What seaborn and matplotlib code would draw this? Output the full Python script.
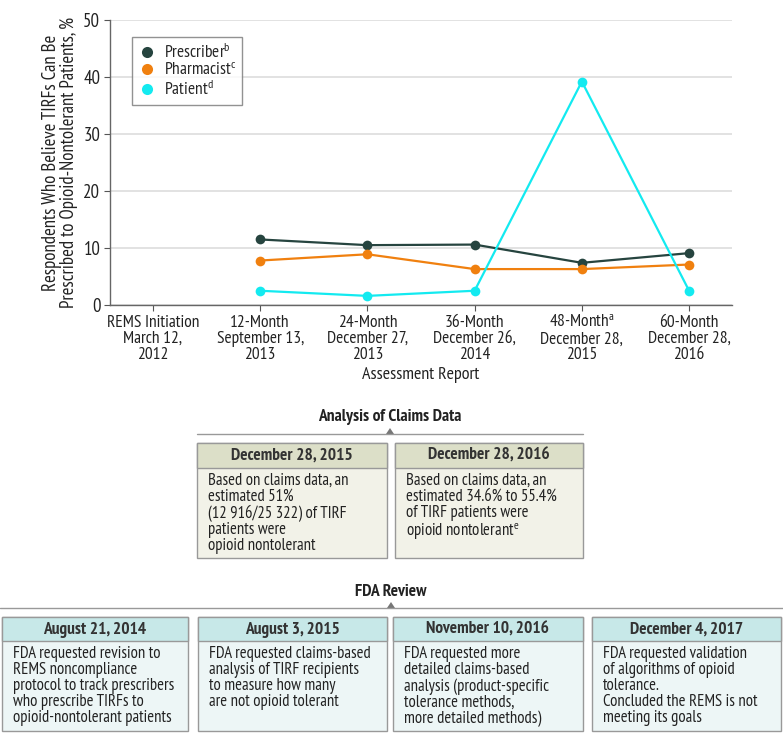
import matplotlib
matplotlib.use("Agg")
import matplotlib.pyplot as plt
from matplotlib import font_manager as fm
import seaborn as sns
import pandas as pd
from matplotlib.patches import Rectangle, Polygon

sns.set_theme(style="white")
available = set(f.name for f in fm.fontManager.ttflist)
candidates = ["PT Sans Narrow", "Fira Sans Condensed", "Roboto Condensed", "Archivo Narrow", "Lato"]
FONT = next((c for c in candidates if c in available), "DejaVu Sans")
plt.rcParams['font.family'] = [FONT, 'DejaVu Sans']
plt.rcParams['mathtext.fontset'] = 'custom'
plt.rcParams['mathtext.rm'] = FONT
plt.rcParams['mathtext.it'] = FONT

# ---- data ----
tick_labels = ["REMS Initiation\nMarch 12,\n2012",
               "12-Month\nSeptember 13,\n2013",
               "24-Month\nDecember 27,\n2013",
               "36-Month\nDecember 26,\n2014",
               "48-Month$^{\\mathrm{a}}$\nDecember 28,\n2015",
               "60-Month\nDecember 28,\n2016"]
report_idx = [1, 2, 3, 4, 5]
prescriber = [11.5, 10.5, 10.6, 7.4, 9.1]
pharmacist = [7.8, 8.9, 6.3, 6.3, 7.1]
patient = [2.5, 1.6, 2.5, 39.2, 2.5]
series_names = ["Prescriber$^{\\mathrm{b}}$", "Pharmacist$^{\\mathrm{c}}$", "Patient$^{\\mathrm{d}}$"]
colors = ["#26443f", "#f0800f", "#13eaf0"]

claims_dates = ["December 28, 2015", "December 28, 2016"]
claims_text = ["Based on claims data, an\nestimated 51%\n(12\u2009916/25\u2009322) of TIRF\npatients were\nopioid nontolerant",
               "Based on claims data, an\nestimated 34.6% to 55.4%\nof TIRF patients were\nopioid nontolerant$^{\\mathrm{e}}$"]
fda_dates = ["August 21, 2014", "August 3, 2015", "November 10, 2016", "December 4, 2017"]
fda_text = ["FDA requested revision to\nREMS noncompliance\nprotocol to track prescribers\nwho prescribe TIRFs to\nopioid-nontolerant patients",
            "FDA requested claims-based\nanalysis of TIRF recipients\nto measure how many\nare not opioid tolerant",
            "FDA requested more\ndetailed claims-based\nanalysis (product-specific\ntolerance methods,\nmore detailed methods)",
            "FDA requested validation\nof algorithms of opioid\ntolerance.\nConcluded the REMS is not\nmeeting its goals"]

df = pd.DataFrame({
    "idx": report_idx * 3,
    "value": prescriber + pharmacist + patient,
    "series": [series_names[0]] * 5 + [series_names[1]] * 5 + [series_names[2]] * 5,
})

W, H = 783, 745
fig = plt.figure(figsize=(W / 100, H / 100), dpi=100)

FS = 12

# chart axes
ax = fig.add_axes([110 / W, 1 - 305 / H, (732 - 110) / W, 285 / H])
sns.lineplot(data=df, x="idx", y="value", hue="series", hue_order=series_names,
             palette=colors, marker="o", markersize=7, markeredgewidth=0,
             linewidth=1.6, ax=ax)
ax.set_xlim(-0.4, 5.4)
ax.set_ylim(0, 50)
ax.set_yticks([0, 10, 20, 30, 40, 50])
ax.set_xticks(range(6))
ax.set_xticklabels(tick_labels, fontsize=FS + 0.5, color="#222222", linespacing=1.0)
ax.tick_params(axis="y", labelsize=FS + 1.5, colors="#222222", length=4, width=0.8, color="#555555",
               left=True, pad=3)
ax.tick_params(axis="x", length=4, width=0.8, color="#555555", bottom=True, pad=3)
ax.yaxis.grid(True, color="#dddddd", linewidth=1.2)
ax.set_axisbelow(True)
for s in ["top", "right"]:
    ax.spines[s].set_visible(False)
for s in ["left", "bottom"]:
    ax.spines[s].set_color("#666666")
    ax.spines[s].set_linewidth(1.0)
ax.set_xlabel("Assessment Report", fontsize=FS + 1, color="#222222", labelpad=3)
ax.set_ylabel("Respondents Who Believe TIRFs Can Be\nPrescribed to Opioid-Nontolerant Patients, %",
              fontsize=FS + 1.5, color="#222222", labelpad=4, linespacing=0.95)
leg = ax.legend(loc="upper left", bbox_to_anchor=(0.035, 0.94), borderaxespad=0, fontsize=FS + 0.5,
                frameon=True, fancybox=False, edgecolor="#777777", borderpad=0.35,
                handletextpad=0.5, labelspacing=0.05, handlelength=1.0)
leg.get_frame().set_linewidth(1.0)
for h in leg.legend_handles:
    h.set_linestyle("none")
    h.set_markersize(8)

# overlay axes for timeline boxes (pixel coordinates)
ov = fig.add_axes([0, 0, 1, 1])
ov.set_xlim(0, W)
ov.set_ylim(H, 0)
ov.axis("off")


def section(title, ty, ly, x0, x1, cx):
    ov.text(cx, ty, title, ha="center", va="center", fontsize=FS + 0.5, fontweight="bold", color="#222222")
    ov.plot([x0, x1], [ly, ly], color="#999999", lw=1.0)
    ov.add_patch(Polygon([[cx - 4, ly], [cx + 4, ly], [cx, ly - 6]], closed=True, color="#777777", lw=0))


def box(x0, x1, y0, y1, hy, date, text, hcol, bcol):
    ov.add_patch(Rectangle((x0, y0), x1 - x0, y1 - y0, facecolor=bcol, edgecolor="#999999", lw=1.0))
    ov.add_patch(Rectangle((x0, y0), x1 - x0, hy - y0, facecolor=hcol, edgecolor="#999999", lw=1.0))
    ov.text((x0 + x1) / 2, (y0 + hy) / 2 + 0.5, date, ha="center", va="center", fontsize=FS + 0.5,
            fontweight="bold", color="#333333")
    ov.text(x0 + 11, hy + 5, text, ha="left", va="top", fontsize=FS, color="#222222", linespacing=1.0)


section("Analysis of Claims Data", 417, 434, 197, 583, 390)
claims_x = [(197, 387), (395, 583)]
for (x0, x1), d, t in zip(claims_x, claims_dates, claims_text):
    box(x0, x1, 443, 558, 468, d, t, "#dcdfc8", "#f2f2e8")

section("FDA Review", 592, 608, 0, 783, 391)
fda_x = [(2, 188), (198, 387), (393, 583), (592, 781)]
for (x0, x1), d, t in zip(fda_x, fda_dates, fda_text):
    box(x0, x1, 617, 731, 641, d, t, "#c7e8e8", "#edf6f6")

fig.savefig("out.png", dpi=100)
